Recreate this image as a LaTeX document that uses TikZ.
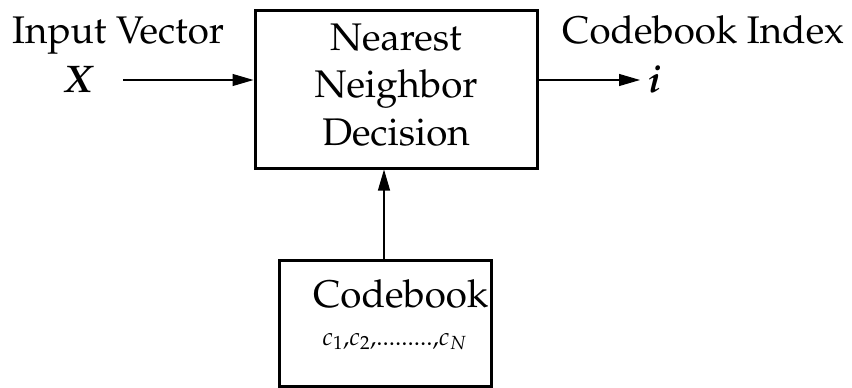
\documentclass[tikz,border=0pt]{standalone}
\usepackage[T1]{fontenc}
\usepackage{mathpazo}
\usetikzlibrary{arrows.meta}
\begin{document}
\begin{tikzpicture}[x=1pt,y=-1pt,
  blk/.style={draw,line width=3pt,inner sep=0pt},
  lbl/.style={inner sep=0pt,anchor=base west},
  flow/.style={line width=1.1pt,-{Triangle[length=21pt,width=12pt]}},
  big/.style={font=\fontsize{38.5}{47.5}\selectfont}]
\useasboundingbox (0,0) rectangle (852,388);
% processing blocks
\node[blk,minimum width=282pt,minimum height=158pt] (nn) at (396,89) {};
\node[blk,minimum width=212pt,minimum height=126pt] (cb) at (385,323) {};
% block texts
\node[big,inner sep=0pt,align=center,anchor=base] (nnt) at (396,145) {Nearest\\Neighbor\\Decision};
\node[big,lbl] (cbt) at (313,307) {Codebook};
\node[lbl,font=\fontsize{25}{30}\selectfont] (cv) at (322,345) {$c_1$,$c_2$,.........,$c_N$};
% side labels
\node[big,lbl] (inl) at (12,43) {Input Vector};
\node[big,lbl] (x) at (64,92) {\textbf{\textit{X}}};
\node[big,lbl] (outl) at (562,43) {Codebook Index};
\node[big,lbl] (i) at (648,92) {\textbf{\textit{i}}};
% connectors
\coordinate (xs) at (123,80);
\coordinate (ie) at (640,80);
\coordinate (v) at (384,0);
\draw[flow] (xs) -- (xs -| nn.west);
\draw[flow] (ie -| nn.east) -- (ie);
\draw[flow] (cb.north -| v) -- (nn.south -| v);
\end{tikzpicture}
\end{document}
